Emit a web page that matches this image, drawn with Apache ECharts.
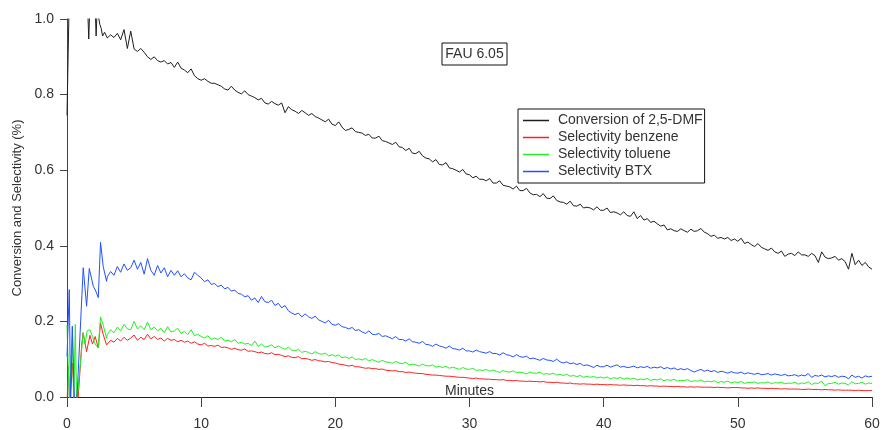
<!DOCTYPE html>
<html>
<head>
<meta charset="utf-8">
<title>FAU 6.05</title>
<script src="https://cdn.jsdelivr.net/npm/echarts@6/dist/echarts.min.js"></script>
<style>
  html, body { margin: 0; padding: 0; background: #fff; }
  #chart { width: 883px; height: 430px; }
</style>
</head>
<body>
<div id="chart"></div>
<script>
// 读图数据：前 3 分钟不规则，用 [分钟, 值]；之后按 0.25 分钟一个点
const seriesNames = ['Conversion of 2,5-DMF', 'Selectivity benzene', 'Selectivity toluene', 'Selectivity BTX']
const xTicks = [0, 10, 20, 30, 40, 50, 60]
const yTicks = [0, 0.2, 0.4, 0.6, 0.8, 1.0]

const regularStart = 3
const regularStep = 0.25

// 起始段（超出 0~1 的部分会被坐标轴裁掉）
const conversionEarly = [
  [0, 0.745], [0.15, 1.03], [0.4, 1.2], [0.9, 1.25], [1.4, 1.1], [1.55, 1.02], [1.62, 0.947],
  [1.7, 1.03], [1.9, 1.1], [2.1, 1.03], [2.17, 0.955], [2.25, 1.03], [2.33, 1.01], [2.45, 0.985],
  [2.55, 0.975], [2.65, 0.955], [2.8, 0.965]
]
const benzeneEarly = [
  [0, -0.02], [0.1, 0.08], [0.2, -0.02], [0.3, -0.02], [0.42, 0.09], [0.55, -0.02], [0.8, -0.02],
  [1.1, 0.14], [1.2, 0.17], [1.46, 0.12], [1.71, 0.163], [1.9, 0.14], [2.1, 0.16], [2.33, 0.13],
  [2.5, 0.196], [2.7, 0.165], [2.95, 0.138]
]
const tolueneEarly = [
  [0, 0.19], [0.18, -0.02], [0.4, 0.187], [0.5, -0.02], [0.62, 0.192], [0.72, -0.02], [0.85, -0.02],
  [1.21, 0.17], [1.35, 0.14], [1.5, 0.175], [1.71, 0.178], [1.9, 0.16], [2.1, 0.14], [2.33, 0.13],
  [2.5, 0.212], [2.7, 0.19], [2.95, 0.155]
]
const btxEarly = [
  [0, 0.107], [0.17, 0.284], [0.27, -0.02], [0.4, 0.187], [0.55, -0.02], [0.72, -0.02], [1.21, 0.342],
  [1.46, 0.24], [1.66, 0.34], [1.96, 0.293], [2.15, 0.28], [2.33, 0.263], [2.5, 0.409], [2.7, 0.345],
  [2.95, 0.306]
]

// 3 ~ 60 分钟
const conversionValues = [
  0.950, 0.958, 0.951, 0.962, 0.945, 0.972, 0.922, 0.968, 0.921, 0.914, 0.922, 0.912,
  0.900, 0.893, 0.900, 0.890, 0.886, 0.890, 0.881, 0.885, 0.872, 0.886, 0.870, 0.865,
  0.858, 0.868, 0.850, 0.842, 0.838, 0.842, 0.835, 0.830, 0.830, 0.826, 0.822, 0.815,
  0.812, 0.822, 0.812, 0.806, 0.802, 0.810, 0.800, 0.796, 0.792, 0.786, 0.790, 0.778,
  0.775, 0.782, 0.776, 0.772, 0.778, 0.752, 0.768, 0.760, 0.756, 0.750, 0.758, 0.752,
  0.745, 0.750, 0.742, 0.738, 0.733, 0.728, 0.735, 0.722, 0.718, 0.728, 0.714, 0.705,
  0.708, 0.712, 0.702, 0.700, 0.698, 0.692, 0.695, 0.685, 0.685, 0.690, 0.678, 0.676,
  0.672, 0.668, 0.674, 0.662, 0.660, 0.652, 0.658, 0.645, 0.644, 0.650, 0.638, 0.632,
  0.630, 0.622, 0.628, 0.615, 0.614, 0.620, 0.606, 0.604, 0.600, 0.595, 0.602, 0.590,
  0.588, 0.580, 0.584, 0.576, 0.576, 0.572, 0.578, 0.566, 0.566, 0.572, 0.560, 0.558,
  0.556, 0.550, 0.558, 0.546, 0.546, 0.552, 0.540, 0.535, 0.536, 0.530, 0.538, 0.526,
  0.525, 0.532, 0.520, 0.516, 0.515, 0.510, 0.518, 0.506, 0.505, 0.510, 0.500, 0.502,
  0.500, 0.495, 0.503, 0.494, 0.494, 0.500, 0.488, 0.490, 0.487, 0.482, 0.490, 0.480,
  0.478, 0.490, 0.472, 0.480, 0.468, 0.472, 0.462, 0.465, 0.458, 0.452, 0.455, 0.442,
  0.445, 0.440, 0.438, 0.445, 0.440, 0.436, 0.444, 0.438, 0.440, 0.446, 0.436, 0.432,
  0.425, 0.428, 0.420, 0.422, 0.418, 0.422, 0.414, 0.418, 0.412, 0.420, 0.406, 0.410,
  0.403, 0.398, 0.406, 0.396, 0.392, 0.388, 0.394, 0.384, 0.380, 0.386, 0.372, 0.378,
  0.380, 0.374, 0.384, 0.376, 0.376, 0.372, 0.380, 0.374, 0.356, 0.384, 0.370, 0.366,
  0.368, 0.372, 0.362, 0.366, 0.358, 0.338, 0.380, 0.350, 0.362, 0.348, 0.356, 0.344,
  0.338
]
const benzeneValues = [
  0.142, 0.150, 0.145, 0.155, 0.148, 0.158, 0.150, 0.156, 0.164, 0.150, 0.158, 0.152,
  0.166, 0.154, 0.160, 0.152, 0.156, 0.148, 0.155, 0.150, 0.152, 0.146, 0.150, 0.145,
  0.148, 0.142, 0.146, 0.140, 0.138, 0.142, 0.135, 0.136, 0.134, 0.137, 0.131, 0.132,
  0.130, 0.126, 0.129, 0.125, 0.124, 0.127, 0.121, 0.122, 0.120, 0.117, 0.119, 0.115,
  0.114, 0.117, 0.112, 0.113, 0.110, 0.107, 0.109, 0.105, 0.104, 0.107, 0.101, 0.102,
  0.100, 0.097, 0.099, 0.096, 0.095, 0.093, 0.094, 0.091, 0.090, 0.087, 0.086, 0.084,
  0.082, 0.084, 0.080, 0.080, 0.078, 0.076, 0.077, 0.075, 0.075, 0.073, 0.074, 0.071,
  0.070, 0.069, 0.070, 0.067, 0.067, 0.065, 0.066, 0.064, 0.063, 0.062, 0.062, 0.060,
  0.059, 0.058, 0.058, 0.057, 0.056, 0.055, 0.055, 0.054, 0.053, 0.052, 0.052, 0.051,
  0.050, 0.049, 0.050, 0.048, 0.048, 0.047, 0.047, 0.046, 0.046, 0.045, 0.046, 0.044,
  0.044, 0.043, 0.044, 0.042, 0.042, 0.041, 0.042, 0.041, 0.041, 0.040, 0.041, 0.039,
  0.039, 0.038, 0.039, 0.037, 0.037, 0.036, 0.037, 0.035, 0.035, 0.034, 0.035, 0.034,
  0.034, 0.033, 0.034, 0.033, 0.033, 0.032, 0.033, 0.032, 0.032, 0.031, 0.032, 0.031,
  0.031, 0.030, 0.031, 0.030, 0.030, 0.029, 0.030, 0.029, 0.029, 0.028, 0.029, 0.028,
  0.028, 0.027, 0.028, 0.027, 0.027, 0.026, 0.027, 0.026, 0.027, 0.026, 0.026, 0.026,
  0.026, 0.025, 0.026, 0.025, 0.025, 0.024, 0.025, 0.025, 0.025, 0.024, 0.024, 0.023,
  0.024, 0.023, 0.024, 0.023, 0.023, 0.022, 0.023, 0.022, 0.022, 0.021, 0.022, 0.021,
  0.021, 0.021, 0.021, 0.020, 0.020, 0.021, 0.020, 0.020, 0.020, 0.019, 0.020, 0.019,
  0.019, 0.018, 0.019, 0.018, 0.018, 0.018, 0.018, 0.017, 0.018, 0.017, 0.017, 0.017,
  0.017
]
const tolueneValues = [
  0.165, 0.178, 0.170, 0.185, 0.175, 0.192, 0.180, 0.178, 0.200, 0.180, 0.188, 0.178,
  0.198, 0.178, 0.185, 0.175, 0.182, 0.170, 0.186, 0.172, 0.175, 0.182, 0.168, 0.174,
  0.165, 0.178, 0.162, 0.166, 0.160, 0.156, 0.162, 0.152, 0.156, 0.152, 0.158, 0.148,
  0.150, 0.146, 0.152, 0.142, 0.145, 0.140, 0.142, 0.136, 0.148, 0.134, 0.140, 0.132,
  0.134, 0.138, 0.130, 0.135, 0.130, 0.126, 0.132, 0.124, 0.122, 0.126, 0.118, 0.121,
  0.118, 0.114, 0.120, 0.115, 0.113, 0.116, 0.109, 0.112, 0.108, 0.111, 0.104, 0.106,
  0.102, 0.106, 0.099, 0.101, 0.098, 0.102, 0.095, 0.099, 0.095, 0.092, 0.097, 0.093,
  0.092, 0.089, 0.094, 0.090, 0.088, 0.092, 0.085, 0.087, 0.085, 0.082, 0.087, 0.083,
  0.082, 0.085, 0.079, 0.081, 0.078, 0.081, 0.076, 0.079, 0.076, 0.073, 0.078, 0.074,
  0.073, 0.076, 0.070, 0.072, 0.070, 0.073, 0.068, 0.071, 0.068, 0.065, 0.070, 0.067,
  0.066, 0.069, 0.064, 0.066, 0.064, 0.061, 0.066, 0.063, 0.063, 0.066, 0.060, 0.062,
  0.060, 0.063, 0.058, 0.060, 0.057, 0.060, 0.055, 0.057, 0.054, 0.057, 0.052, 0.055,
  0.052, 0.055, 0.050, 0.053, 0.050, 0.053, 0.048, 0.051, 0.049, 0.052, 0.047, 0.050,
  0.047, 0.050, 0.045, 0.048, 0.046, 0.049, 0.044, 0.047, 0.045, 0.048, 0.043, 0.046,
  0.044, 0.047, 0.042, 0.044, 0.043, 0.046, 0.041, 0.043, 0.042, 0.045, 0.040, 0.042,
  0.040, 0.043, 0.038, 0.041, 0.039, 0.042, 0.037, 0.040, 0.038, 0.041, 0.036, 0.039,
  0.038, 0.040, 0.036, 0.038, 0.037, 0.040, 0.035, 0.038, 0.037, 0.039, 0.035, 0.037,
  0.036, 0.039, 0.034, 0.037, 0.036, 0.040, 0.033, 0.037, 0.036, 0.042, 0.030, 0.036,
  0.036, 0.039, 0.034, 0.037, 0.036, 0.032, 0.040, 0.035, 0.036, 0.039, 0.034, 0.037,
  0.036
]
const btxValues = [
  0.318, 0.332, 0.322, 0.345, 0.330, 0.352, 0.335, 0.342, 0.362, 0.338, 0.356, 0.325,
  0.366, 0.335, 0.322, 0.348, 0.328, 0.342, 0.318, 0.335, 0.322, 0.334, 0.318, 0.326,
  0.315, 0.310, 0.330, 0.322, 0.315, 0.305, 0.310, 0.298, 0.300, 0.292, 0.296, 0.286,
  0.290, 0.280, 0.283, 0.274, 0.272, 0.265, 0.268, 0.256, 0.262, 0.250, 0.266, 0.252,
  0.250, 0.256, 0.242, 0.248, 0.236, 0.242, 0.228, 0.222, 0.218, 0.222, 0.212, 0.220,
  0.212, 0.208, 0.214, 0.204, 0.200, 0.196, 0.203, 0.192, 0.190, 0.194, 0.186, 0.184,
  0.180, 0.184, 0.176, 0.178, 0.172, 0.168, 0.175, 0.166, 0.165, 0.168, 0.160, 0.162,
  0.158, 0.154, 0.160, 0.152, 0.152, 0.148, 0.154, 0.146, 0.145, 0.142, 0.147, 0.139,
  0.138, 0.134, 0.140, 0.135, 0.133, 0.129, 0.135, 0.128, 0.127, 0.124, 0.129, 0.122,
  0.122, 0.119, 0.124, 0.120, 0.118, 0.116, 0.120, 0.115, 0.115, 0.111, 0.117, 0.112,
  0.110, 0.106, 0.112, 0.107, 0.105, 0.108, 0.101, 0.103, 0.100, 0.097, 0.102, 0.098,
  0.097, 0.094, 0.100, 0.093, 0.090, 0.093, 0.088, 0.090, 0.086, 0.089, 0.083, 0.085,
  0.082, 0.078, 0.084, 0.080, 0.080, 0.084, 0.079, 0.082, 0.085, 0.079, 0.081, 0.078,
  0.079, 0.082, 0.077, 0.080, 0.078, 0.081, 0.076, 0.079, 0.077, 0.080, 0.075, 0.078,
  0.074, 0.077, 0.072, 0.075, 0.072, 0.075, 0.070, 0.066, 0.070, 0.073, 0.068, 0.071,
  0.067, 0.070, 0.065, 0.068, 0.066, 0.063, 0.067, 0.064, 0.063, 0.066, 0.061, 0.064,
  0.062, 0.060, 0.063, 0.059, 0.060, 0.062, 0.058, 0.061, 0.059, 0.057, 0.060, 0.056,
  0.057, 0.059, 0.055, 0.058, 0.056, 0.062, 0.052, 0.057, 0.055, 0.058, 0.053, 0.056,
  0.054, 0.057, 0.052, 0.055, 0.054, 0.048, 0.058, 0.052, 0.055, 0.050, 0.056, 0.053,
  0.055
]

const seriesColors = ['#1e1e1e', '#ff2020', '#22f022', '#2250ff']
const fontFamily = '"Liberation Sans", Arial, sans-serif'

// 把起始段与规则采样段拼成 [x, y]
const buildSeriesData = (early, values) => {
  const regular = values.map((v, i) => [regularStart + i * regularStep, v])
  return early.concat(regular)
}

const chart = echarts.init(document.getElementById('chart'), null, { renderer: 'canvas' })

const lineSeries = (name, color, data) => ({
  name: name,
  type: 'line',
  data: data,
  symbol: 'none',
  clip: true,
  animation: false,
  lineStyle: { color: color, width: 1 },
  itemStyle: { color: color }
})

const option = {
  backgroundColor: '#fff',
  animation: false,
  textStyle: { fontFamily: fontFamily },
  grid: { left: 67, right: 11, top: 19, bottom: 33, containLabel: false, outerBoundsMode: 'none' },
  xAxis: {
    type: 'value',
    min: xTicks[0],
    max: xTicks[xTicks.length - 1],
    interval: 10,
    name: 'Minutes',
    nameLocation: 'middle',
    nameGap: -13,
    nameMoveOverlap: false,
    nameTextStyle: { fontSize: 14, color: '#333', fontFamily: fontFamily },
    axisLine: { onZero: false, lineStyle: { color: '#222', width: 1 } },
    axisTick: { show: true, length: 10, lineStyle: { color: '#444' } },
    axisLabel: { fontSize: 14, color: '#333', margin: 20, fontFamily: fontFamily },
    splitLine: { show: false }
  },
  yAxis: {
    type: 'value',
    min: yTicks[0],
    max: yTicks[yTicks.length - 1],
    interval: 0.2,
    offset: 3,
    name: 'Conversion and Selectivity (%)',
    nameLocation: 'middle',
    nameGap: 40,
    nameMoveOverlap: false,
    nameTextStyle: { fontSize: 13, color: '#333', fontFamily: fontFamily },
    axisLine: { show: true, lineStyle: { color: '#444', width: 1 } },
    axisTick: { show: true, length: 7, lineStyle: { color: '#444' } },
    axisLabel: {
      fontSize: 14,
      color: '#333',
      margin: 10,
      fontFamily: fontFamily,
      formatter: (v) => v.toFixed(1)
    },
    splitLine: { show: false }
  },
  legend: {
    orient: 'vertical',
    left: 518,
    top: 109,
    padding: [3, 2, 3, 5],
    itemGap: 0,
    itemWidth: 26,
    itemHeight: 1.5,
    icon: 'rect',
    borderColor: '#111',
    borderWidth: 1,
    backgroundColor: '#fff',
    // 图标与文字之间多留一点空隙
    formatter: (name) => ' ' + name,
    textStyle: { fontSize: 14, color: '#333', lineHeight: 17, fontFamily: fontFamily },
    data: seriesNames
  },
  graphic: [
    {
      type: 'rect',
      shape: { x: 442, y: 43, width: 65, height: 22 },
      style: { fill: '#fff', stroke: '#111', lineWidth: 1 },
      z: 10
    },
    {
      type: 'text',
      x: 474.5,
      y: 54.5,
      style: {
        text: 'FAU 6.05',
        font: '14px ' + fontFamily,
        fill: '#333',
        align: 'center',
        verticalAlign: 'middle'
      },
      z: 11
    }
  ],
  series: [
    lineSeries(seriesNames[0], seriesColors[0], buildSeriesData(conversionEarly, conversionValues)),
    lineSeries(seriesNames[1], seriesColors[1], buildSeriesData(benzeneEarly, benzeneValues)),
    lineSeries(seriesNames[2], seriesColors[2], buildSeriesData(tolueneEarly, tolueneValues)),
    lineSeries(seriesNames[3], seriesColors[3], buildSeriesData(btxEarly, btxValues))
  ]
}

chart.setOption(option)
</script>
</body>
</html>
